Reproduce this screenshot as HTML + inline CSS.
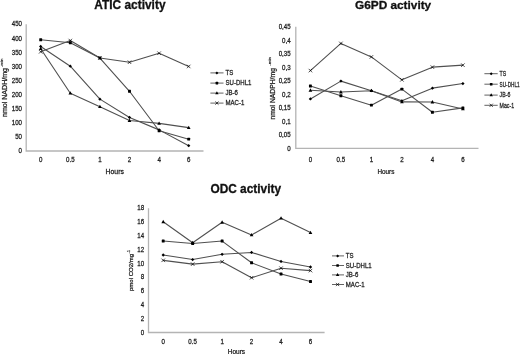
<!DOCTYPE html>
<html><head><meta charset="utf-8"><style>
html,body{margin:0;padding:0;background:#fff;width:520px;height:354px;overflow:hidden}
svg{display:block;font-family:"Liberation Sans", sans-serif;will-change:transform}
</style></head><body>
<svg width="520" height="354" viewBox="0 0 520 354">
<rect width="520" height="354" fill="#fff"/>
<path d="M26.20 24.20V151.00H203.50" stroke="#b4b4b4" stroke-width="1.3" fill="none"/>
<text transform="translate(22.00,153.25) scale(0.95,1)" font-size="6.5" text-anchor="end" font-weight="normal" fill="#1e1e1e" stroke="#1e1e1e" stroke-width="0.25" >0</text>
<text transform="translate(22.00,139.16) scale(0.95,1)" font-size="6.5" text-anchor="end" font-weight="normal" fill="#1e1e1e" stroke="#1e1e1e" stroke-width="0.25" >50</text>
<text transform="translate(22.00,125.07) scale(0.95,1)" font-size="6.5" text-anchor="end" font-weight="normal" fill="#1e1e1e" stroke="#1e1e1e" stroke-width="0.25" >100</text>
<text transform="translate(22.00,110.98) scale(0.95,1)" font-size="6.5" text-anchor="end" font-weight="normal" fill="#1e1e1e" stroke="#1e1e1e" stroke-width="0.25" >150</text>
<text transform="translate(22.00,96.89) scale(0.95,1)" font-size="6.5" text-anchor="end" font-weight="normal" fill="#1e1e1e" stroke="#1e1e1e" stroke-width="0.25" >200</text>
<text transform="translate(22.00,82.81) scale(0.95,1)" font-size="6.5" text-anchor="end" font-weight="normal" fill="#1e1e1e" stroke="#1e1e1e" stroke-width="0.25" >250</text>
<text transform="translate(22.00,68.72) scale(0.95,1)" font-size="6.5" text-anchor="end" font-weight="normal" fill="#1e1e1e" stroke="#1e1e1e" stroke-width="0.25" >300</text>
<text transform="translate(22.00,54.63) scale(0.95,1)" font-size="6.5" text-anchor="end" font-weight="normal" fill="#1e1e1e" stroke="#1e1e1e" stroke-width="0.25" >350</text>
<text transform="translate(22.00,40.54) scale(0.95,1)" font-size="6.5" text-anchor="end" font-weight="normal" fill="#1e1e1e" stroke="#1e1e1e" stroke-width="0.25" >400</text>
<text transform="translate(22.00,26.45) scale(0.95,1)" font-size="6.5" text-anchor="end" font-weight="normal" fill="#1e1e1e" stroke="#1e1e1e" stroke-width="0.25" >450</text>
<text transform="translate(40.70,161.80) scale(0.95,1)" font-size="6.5" text-anchor="middle" font-weight="normal" fill="#1e1e1e" stroke="#1e1e1e" stroke-width="0.25" >0</text>
<text transform="translate(70.30,161.80) scale(0.95,1)" font-size="6.5" text-anchor="middle" font-weight="normal" fill="#1e1e1e" stroke="#1e1e1e" stroke-width="0.25" >0.5</text>
<text transform="translate(99.90,161.80) scale(0.95,1)" font-size="6.5" text-anchor="middle" font-weight="normal" fill="#1e1e1e" stroke="#1e1e1e" stroke-width="0.25" >1</text>
<text transform="translate(129.50,161.80) scale(0.95,1)" font-size="6.5" text-anchor="middle" font-weight="normal" fill="#1e1e1e" stroke="#1e1e1e" stroke-width="0.25" >2</text>
<text transform="translate(159.10,161.80) scale(0.95,1)" font-size="6.5" text-anchor="middle" font-weight="normal" fill="#1e1e1e" stroke="#1e1e1e" stroke-width="0.25" >4</text>
<text transform="translate(188.70,161.80) scale(0.95,1)" font-size="6.5" text-anchor="middle" font-weight="normal" fill="#1e1e1e" stroke="#1e1e1e" stroke-width="0.25" >6</text>
<text transform="translate(114.70,174.40) scale(1.06,1)" font-size="6.5" text-anchor="middle" font-weight="normal" fill="#1e1e1e" stroke="#1e1e1e" stroke-width="0.25" >Hours</text>
<text x="94.30" y="8.60" font-size="12" text-anchor="start" font-weight="bold" fill="#111" stroke="#111" stroke-width="0.3" textLength="71.2" lengthAdjust="spacingAndGlyphs">ATIC activity</text>
<text transform="translate(6.80,117.00) rotate(-90)" font-size="6.8" fill="#1e1e1e" stroke="#1e1e1e" stroke-width="0.25" textLength="49" lengthAdjust="spacingAndGlyphs">nmol NADH/mg</text>
<text transform="translate(3.40,67.00) rotate(-90)" font-size="4" fill="#1e1e1e" stroke="#1e1e1e" stroke-width="0.15" textLength="8.3" lengthAdjust="spacingAndGlyphs">-min</text>
<polyline points="40.70,46.46 70.30,66.18 99.90,99.15 129.50,117.47 159.10,129.87 188.70,145.65" stroke="#505050" stroke-width="1.1" fill="none" stroke-linejoin="round"/>
<polyline points="40.70,39.70 70.30,42.80 99.90,58.01 129.50,91.26 159.10,130.71 188.70,139.17" stroke="#505050" stroke-width="1.1" fill="none" stroke-linejoin="round"/>
<polyline points="40.70,48.71 70.30,93.24 99.90,106.76 129.50,120.57 159.10,123.39 188.70,127.61" stroke="#505050" stroke-width="1.1" fill="none" stroke-linejoin="round"/>
<polyline points="40.70,51.81 70.30,40.54 99.90,58.01 129.50,62.24 159.10,53.22 188.70,66.47" stroke="#505050" stroke-width="1.1" fill="none" stroke-linejoin="round"/>
<path d="M40.70 44.81L42.35 46.46L40.70 48.11L39.05 46.46Z" fill="#000"/>
<path d="M70.30 64.53L71.95 66.18L70.30 67.83L68.65 66.18Z" fill="#000"/>
<path d="M99.90 97.50L101.55 99.15L99.90 100.80L98.25 99.15Z" fill="#000"/>
<path d="M129.50 115.82L131.15 117.47L129.50 119.12L127.85 117.47Z" fill="#000"/>
<path d="M159.10 128.22L160.75 129.87L159.10 131.52L157.45 129.87Z" fill="#000"/>
<path d="M188.70 144.00L190.35 145.65L188.70 147.30L187.05 145.65Z" fill="#000"/>
<rect x="39.25" y="38.25" width="2.90" height="2.90" rx="0.5" fill="#000"/>
<rect x="68.85" y="41.35" width="2.90" height="2.90" rx="0.5" fill="#000"/>
<rect x="98.45" y="56.56" width="2.90" height="2.90" rx="0.5" fill="#000"/>
<rect x="128.05" y="89.81" width="2.90" height="2.90" rx="0.5" fill="#000"/>
<rect x="157.65" y="129.26" width="2.90" height="2.90" rx="0.5" fill="#000"/>
<rect x="187.25" y="137.72" width="2.90" height="2.90" rx="0.5" fill="#000"/>
<path d="M40.70 46.76L42.55 50.06L38.85 50.06Z" fill="#000"/>
<path d="M70.30 91.29L72.15 94.59L68.45 94.59Z" fill="#000"/>
<path d="M99.90 104.81L101.75 108.11L98.05 108.11Z" fill="#000"/>
<path d="M129.50 118.62L131.35 121.92L127.65 121.92Z" fill="#000"/>
<path d="M159.10 121.44L160.95 124.74L157.25 124.74Z" fill="#000"/>
<path d="M188.70 125.66L190.55 128.96L186.85 128.96Z" fill="#000"/>
<path d="M38.95 50.06L42.45 53.56M42.45 50.06L38.95 53.56" stroke="#000" stroke-width="0.7" fill="none"/>
<path d="M68.55 38.79L72.05 42.29M72.05 38.79L68.55 42.29" stroke="#000" stroke-width="0.7" fill="none"/>
<path d="M98.15 56.26L101.65 59.76M101.65 56.26L98.15 59.76" stroke="#000" stroke-width="0.7" fill="none"/>
<path d="M127.75 60.49L131.25 63.99M131.25 60.49L127.75 63.99" stroke="#000" stroke-width="0.7" fill="none"/>
<path d="M157.35 51.47L160.85 54.97M160.85 51.47L157.35 54.97" stroke="#000" stroke-width="0.7" fill="none"/>
<path d="M186.95 64.72L190.45 68.22M190.45 64.72L186.95 68.22" stroke="#000" stroke-width="0.7" fill="none"/>
<path d="M210.40 72.90H223.50" stroke="#505050" stroke-width="0.9"/>
<path d="M216.90 71.40L218.40 72.90L216.90 74.40L215.40 72.90Z" fill="#000"/>
<text transform="translate(225.50,75.20) scale(0.92,1)" font-size="6.6" text-anchor="start" font-weight="normal" fill="#1e1e1e" stroke="#1e1e1e" stroke-width="0.25" >TS</text>
<path d="M210.40 83.10H223.50" stroke="#505050" stroke-width="0.9"/>
<rect x="215.60" y="81.80" width="2.60" height="2.60" rx="0.5" fill="#000"/>
<text transform="translate(225.50,85.40) scale(0.92,1)" font-size="6.6" text-anchor="start" font-weight="normal" fill="#1e1e1e" stroke="#1e1e1e" stroke-width="0.25" >SU-DHL1</text>
<path d="M210.40 93.10H223.50" stroke="#505050" stroke-width="0.9"/>
<path d="M216.90 91.30L218.60 94.30L215.20 94.30Z" fill="#000"/>
<text transform="translate(225.50,95.40) scale(0.92,1)" font-size="6.6" text-anchor="start" font-weight="normal" fill="#1e1e1e" stroke="#1e1e1e" stroke-width="0.25" >JB-6</text>
<path d="M210.40 103.10H223.50" stroke="#505050" stroke-width="0.9"/>
<path d="M215.30 101.50L218.50 104.70M218.50 101.50L215.30 104.70" stroke="#000" stroke-width="0.7" fill="none"/>
<text transform="translate(225.50,105.40) scale(0.92,1)" font-size="6.6" text-anchor="start" font-weight="normal" fill="#1e1e1e" stroke="#1e1e1e" stroke-width="0.25" >MAC-1</text>
<path d="M295.80 26.80V148.40H478.50" stroke="#b4b4b4" stroke-width="1.3" fill="none"/>
<text transform="translate(290.70,150.80) scale(0.95,1)" font-size="6.5" text-anchor="end" font-weight="normal" fill="#1e1e1e" stroke="#1e1e1e" stroke-width="0.25" >0</text>
<text transform="translate(290.70,137.29) scale(0.95,1)" font-size="6.5" text-anchor="end" font-weight="normal" fill="#1e1e1e" stroke="#1e1e1e" stroke-width="0.25" >0,05</text>
<text transform="translate(290.70,123.78) scale(0.95,1)" font-size="6.5" text-anchor="end" font-weight="normal" fill="#1e1e1e" stroke="#1e1e1e" stroke-width="0.25" >0,1</text>
<text transform="translate(290.70,110.27) scale(0.95,1)" font-size="6.5" text-anchor="end" font-weight="normal" fill="#1e1e1e" stroke="#1e1e1e" stroke-width="0.25" >0,15</text>
<text transform="translate(290.70,96.76) scale(0.95,1)" font-size="6.5" text-anchor="end" font-weight="normal" fill="#1e1e1e" stroke="#1e1e1e" stroke-width="0.25" >0,2</text>
<text transform="translate(290.70,83.24) scale(0.95,1)" font-size="6.5" text-anchor="end" font-weight="normal" fill="#1e1e1e" stroke="#1e1e1e" stroke-width="0.25" >0,25</text>
<text transform="translate(290.70,69.73) scale(0.95,1)" font-size="6.5" text-anchor="end" font-weight="normal" fill="#1e1e1e" stroke="#1e1e1e" stroke-width="0.25" >0,3</text>
<text transform="translate(290.70,56.22) scale(0.95,1)" font-size="6.5" text-anchor="end" font-weight="normal" fill="#1e1e1e" stroke="#1e1e1e" stroke-width="0.25" >0,35</text>
<text transform="translate(290.70,42.71) scale(0.95,1)" font-size="6.5" text-anchor="end" font-weight="normal" fill="#1e1e1e" stroke="#1e1e1e" stroke-width="0.25" >0,4</text>
<text transform="translate(290.70,29.20) scale(0.95,1)" font-size="6.5" text-anchor="end" font-weight="normal" fill="#1e1e1e" stroke="#1e1e1e" stroke-width="0.25" >0,45</text>
<text transform="translate(310.40,161.80) scale(0.95,1)" font-size="6.5" text-anchor="middle" font-weight="normal" fill="#1e1e1e" stroke="#1e1e1e" stroke-width="0.25" >0</text>
<text transform="translate(340.90,161.80) scale(0.95,1)" font-size="6.5" text-anchor="middle" font-weight="normal" fill="#1e1e1e" stroke="#1e1e1e" stroke-width="0.25" >0.5</text>
<text transform="translate(371.40,161.80) scale(0.95,1)" font-size="6.5" text-anchor="middle" font-weight="normal" fill="#1e1e1e" stroke="#1e1e1e" stroke-width="0.25" >1</text>
<text transform="translate(401.90,161.80) scale(0.95,1)" font-size="6.5" text-anchor="middle" font-weight="normal" fill="#1e1e1e" stroke="#1e1e1e" stroke-width="0.25" >2</text>
<text transform="translate(432.40,161.80) scale(0.95,1)" font-size="6.5" text-anchor="middle" font-weight="normal" fill="#1e1e1e" stroke="#1e1e1e" stroke-width="0.25" >4</text>
<text transform="translate(462.90,161.80) scale(0.95,1)" font-size="6.5" text-anchor="middle" font-weight="normal" fill="#1e1e1e" stroke="#1e1e1e" stroke-width="0.25" >6</text>
<text transform="translate(385.90,173.70) scale(0.98,1)" font-size="6.5" text-anchor="middle" font-weight="normal" fill="#1e1e1e" stroke="#1e1e1e" stroke-width="0.25" >Hours</text>
<text x="355.00" y="9.20" font-size="11.8" text-anchor="start" font-weight="bold" fill="#111" stroke="#111" stroke-width="0.3" textLength="76.2" lengthAdjust="spacingAndGlyphs">G6PD activity</text>
<text transform="translate(275.20,119.60) rotate(-90)" font-size="6.8" fill="#1e1e1e" stroke="#1e1e1e" stroke-width="0.25" textLength="51.5" lengthAdjust="spacingAndGlyphs">nmol NADPH/mg</text>
<text transform="translate(271.40,65.80) rotate(-90)" font-size="4" fill="#1e1e1e" stroke="#1e1e1e" stroke-width="0.15" textLength="8.8" lengthAdjust="spacingAndGlyphs">-min</text>
<polyline points="310.40,98.95 340.90,81.11 371.40,90.71 401.90,100.84 432.40,88.14 462.90,83.55" stroke="#505050" stroke-width="1.1" fill="none" stroke-linejoin="round"/>
<polyline points="310.40,85.98 340.90,95.71 371.40,105.16 401.90,89.09 432.40,112.19 462.90,107.87" stroke="#505050" stroke-width="1.1" fill="none" stroke-linejoin="round"/>
<polyline points="310.40,90.30 340.90,92.06 371.40,90.71 401.90,101.92 432.40,102.06 462.90,108.95" stroke="#505050" stroke-width="1.1" fill="none" stroke-linejoin="round"/>
<polyline points="310.40,70.58 340.90,43.42 371.40,56.93 401.90,79.84 432.40,67.14 462.90,65.17" stroke="#505050" stroke-width="1.1" fill="none" stroke-linejoin="round"/>
<path d="M310.40 97.30L312.05 98.95L310.40 100.60L308.75 98.95Z" fill="#000"/>
<path d="M340.90 79.46L342.55 81.11L340.90 82.76L339.25 81.11Z" fill="#000"/>
<path d="M371.40 89.06L373.05 90.71L371.40 92.36L369.75 90.71Z" fill="#000"/>
<path d="M401.90 99.19L403.55 100.84L401.90 102.49L400.25 100.84Z" fill="#000"/>
<path d="M432.40 86.49L434.05 88.14L432.40 89.79L430.75 88.14Z" fill="#000"/>
<path d="M462.90 81.90L464.55 83.55L462.90 85.20L461.25 83.55Z" fill="#000"/>
<rect x="308.95" y="84.53" width="2.90" height="2.90" rx="0.5" fill="#000"/>
<rect x="339.45" y="94.26" width="2.90" height="2.90" rx="0.5" fill="#000"/>
<rect x="369.95" y="103.71" width="2.90" height="2.90" rx="0.5" fill="#000"/>
<rect x="400.45" y="87.64" width="2.90" height="2.90" rx="0.5" fill="#000"/>
<rect x="430.95" y="110.74" width="2.90" height="2.90" rx="0.5" fill="#000"/>
<rect x="461.45" y="106.42" width="2.90" height="2.90" rx="0.5" fill="#000"/>
<path d="M310.40 88.35L312.25 91.65L308.55 91.65Z" fill="#000"/>
<path d="M340.90 90.11L342.75 93.41L339.05 93.41Z" fill="#000"/>
<path d="M371.40 88.76L373.25 92.06L369.55 92.06Z" fill="#000"/>
<path d="M401.90 99.97L403.75 103.27L400.05 103.27Z" fill="#000"/>
<path d="M432.40 100.11L434.25 103.41L430.55 103.41Z" fill="#000"/>
<path d="M462.90 107.00L464.75 110.30L461.05 110.30Z" fill="#000"/>
<path d="M308.65 68.83L312.15 72.33M312.15 68.83L308.65 72.33" stroke="#000" stroke-width="0.7" fill="none"/>
<path d="M339.15 41.67L342.65 45.17M342.65 41.67L339.15 45.17" stroke="#000" stroke-width="0.7" fill="none"/>
<path d="M369.65 55.18L373.15 58.68M373.15 55.18L369.65 58.68" stroke="#000" stroke-width="0.7" fill="none"/>
<path d="M400.15 78.09L403.65 81.59M403.65 78.09L400.15 81.59" stroke="#000" stroke-width="0.7" fill="none"/>
<path d="M430.65 65.39L434.15 68.89M434.15 65.39L430.65 68.89" stroke="#000" stroke-width="0.7" fill="none"/>
<path d="M461.15 63.42L464.65 66.92M464.65 63.42L461.15 66.92" stroke="#000" stroke-width="0.7" fill="none"/>
<path d="M484.40 73.70H497.70" stroke="#505050" stroke-width="0.9"/>
<path d="M491.20 72.20L492.70 73.70L491.20 75.20L489.70 73.70Z" fill="#000"/>
<text transform="translate(499.60,76.00) scale(0.7912,1)" font-size="6.6" text-anchor="start" font-weight="normal" fill="#1e1e1e" stroke="#1e1e1e" stroke-width="0.25" >TS</text>
<path d="M484.40 84.20H497.70" stroke="#505050" stroke-width="0.9"/>
<rect x="489.90" y="82.90" width="2.60" height="2.60" rx="0.5" fill="#000"/>
<text transform="translate(499.60,86.50) scale(0.71,1)" font-size="6.6" text-anchor="start" font-weight="normal" fill="#1e1e1e" stroke="#1e1e1e" stroke-width="0.25" >SU-DHL1</text>
<path d="M484.40 95.10H497.70" stroke="#505050" stroke-width="0.9"/>
<path d="M491.20 93.30L492.90 96.30L489.50 96.30Z" fill="#000"/>
<text transform="translate(499.60,97.40) scale(0.7912,1)" font-size="6.6" text-anchor="start" font-weight="normal" fill="#1e1e1e" stroke="#1e1e1e" stroke-width="0.25" >JB-6</text>
<path d="M484.40 105.30H497.70" stroke="#505050" stroke-width="0.9"/>
<path d="M489.60 103.70L492.80 106.90M492.80 103.70L489.60 106.90" stroke="#000" stroke-width="0.7" fill="none"/>
<text transform="translate(499.60,107.60) scale(0.7912,1)" font-size="6.6" text-anchor="start" font-weight="normal" fill="#1e1e1e" stroke="#1e1e1e" stroke-width="0.25" >Mac-1</text>
<path d="M148.50 208.30V332.50H324.60" stroke="#b4b4b4" stroke-width="1.3" fill="none"/>
<text transform="translate(144.20,334.55) scale(0.95,1)" font-size="6.5" text-anchor="end" font-weight="normal" fill="#1e1e1e" stroke="#1e1e1e" stroke-width="0.25" >0</text>
<text transform="translate(144.20,320.75) scale(0.95,1)" font-size="6.5" text-anchor="end" font-weight="normal" fill="#1e1e1e" stroke="#1e1e1e" stroke-width="0.25" >2</text>
<text transform="translate(144.20,306.95) scale(0.95,1)" font-size="6.5" text-anchor="end" font-weight="normal" fill="#1e1e1e" stroke="#1e1e1e" stroke-width="0.25" >4</text>
<text transform="translate(144.20,293.15) scale(0.95,1)" font-size="6.5" text-anchor="end" font-weight="normal" fill="#1e1e1e" stroke="#1e1e1e" stroke-width="0.25" >6</text>
<text transform="translate(144.20,279.35) scale(0.95,1)" font-size="6.5" text-anchor="end" font-weight="normal" fill="#1e1e1e" stroke="#1e1e1e" stroke-width="0.25" >8</text>
<text transform="translate(144.20,265.55) scale(0.95,1)" font-size="6.5" text-anchor="end" font-weight="normal" fill="#1e1e1e" stroke="#1e1e1e" stroke-width="0.25" >10</text>
<text transform="translate(144.20,251.75) scale(0.95,1)" font-size="6.5" text-anchor="end" font-weight="normal" fill="#1e1e1e" stroke="#1e1e1e" stroke-width="0.25" >12</text>
<text transform="translate(144.20,237.95) scale(0.95,1)" font-size="6.5" text-anchor="end" font-weight="normal" fill="#1e1e1e" stroke="#1e1e1e" stroke-width="0.25" >14</text>
<text transform="translate(144.20,224.15) scale(0.95,1)" font-size="6.5" text-anchor="end" font-weight="normal" fill="#1e1e1e" stroke="#1e1e1e" stroke-width="0.25" >16</text>
<text transform="translate(144.20,210.35) scale(0.95,1)" font-size="6.5" text-anchor="end" font-weight="normal" fill="#1e1e1e" stroke="#1e1e1e" stroke-width="0.25" >18</text>
<text transform="translate(163.20,343.60) scale(0.95,1)" font-size="6.5" text-anchor="middle" font-weight="normal" fill="#1e1e1e" stroke="#1e1e1e" stroke-width="0.25" >0</text>
<text transform="translate(192.66,343.60) scale(0.95,1)" font-size="6.5" text-anchor="middle" font-weight="normal" fill="#1e1e1e" stroke="#1e1e1e" stroke-width="0.25" >0.5</text>
<text transform="translate(222.12,343.60) scale(0.95,1)" font-size="6.5" text-anchor="middle" font-weight="normal" fill="#1e1e1e" stroke="#1e1e1e" stroke-width="0.25" >1</text>
<text transform="translate(251.58,343.60) scale(0.95,1)" font-size="6.5" text-anchor="middle" font-weight="normal" fill="#1e1e1e" stroke="#1e1e1e" stroke-width="0.25" >2</text>
<text transform="translate(281.04,343.60) scale(0.95,1)" font-size="6.5" text-anchor="middle" font-weight="normal" fill="#1e1e1e" stroke="#1e1e1e" stroke-width="0.25" >4</text>
<text transform="translate(310.50,343.60) scale(0.95,1)" font-size="6.5" text-anchor="middle" font-weight="normal" fill="#1e1e1e" stroke="#1e1e1e" stroke-width="0.25" >6</text>
<text x="236.40" y="353.80" font-size="6.5" text-anchor="middle" font-weight="normal" fill="#1e1e1e" stroke="#1e1e1e" stroke-width="0.25" >Hours</text>
<text x="210.40" y="192.50" font-size="12" text-anchor="start" font-weight="bold" fill="#111" stroke="#111" stroke-width="0.3" textLength="70.6" lengthAdjust="spacingAndGlyphs">ODC activity</text>
<text transform="translate(132.50,291.00) rotate(-90)" font-size="6.2" fill="#1e1e1e" stroke="#1e1e1e" stroke-width="0.25" textLength="37" lengthAdjust="spacingAndGlyphs">pmol CO2/mg</text>
<text transform="translate(130.40,253.60) rotate(-90)" font-size="4" fill="#1e1e1e" stroke="#1e1e1e" stroke-width="0.15" textLength="3.6" lengthAdjust="spacingAndGlyphs">-1</text>
<polyline points="163.20,255.01 192.66,259.57 222.12,254.32 251.58,252.46 281.04,261.43 310.50,267.02" stroke="#505050" stroke-width="1.1" fill="none" stroke-linejoin="round"/>
<polyline points="163.20,241.07 192.66,243.49 222.12,241.07 251.58,262.81 281.04,273.99 310.50,281.44" stroke="#505050" stroke-width="1.1" fill="none" stroke-linejoin="round"/>
<polyline points="163.20,221.82 192.66,242.73 222.12,222.31 251.58,235.00 281.04,218.17 310.50,232.59" stroke="#505050" stroke-width="1.1" fill="none" stroke-linejoin="round"/>
<polyline points="163.20,260.33 192.66,264.12 222.12,261.71 251.58,277.78 281.04,268.19 310.50,270.61" stroke="#505050" stroke-width="1.1" fill="none" stroke-linejoin="round"/>
<path d="M163.20 253.36L164.85 255.01L163.20 256.66L161.55 255.01Z" fill="#000"/>
<path d="M192.66 257.92L194.31 259.57L192.66 261.22L191.01 259.57Z" fill="#000"/>
<path d="M222.12 252.67L223.77 254.32L222.12 255.97L220.47 254.32Z" fill="#000"/>
<path d="M251.58 250.81L253.23 252.46L251.58 254.11L249.93 252.46Z" fill="#000"/>
<path d="M281.04 259.78L282.69 261.43L281.04 263.08L279.39 261.43Z" fill="#000"/>
<path d="M310.50 265.37L312.15 267.02L310.50 268.67L308.85 267.02Z" fill="#000"/>
<rect x="161.75" y="239.62" width="2.90" height="2.90" rx="0.5" fill="#000"/>
<rect x="191.21" y="242.04" width="2.90" height="2.90" rx="0.5" fill="#000"/>
<rect x="220.67" y="239.62" width="2.90" height="2.90" rx="0.5" fill="#000"/>
<rect x="250.13" y="261.36" width="2.90" height="2.90" rx="0.5" fill="#000"/>
<rect x="279.59" y="272.54" width="2.90" height="2.90" rx="0.5" fill="#000"/>
<rect x="309.05" y="279.99" width="2.90" height="2.90" rx="0.5" fill="#000"/>
<path d="M163.20 219.87L165.05 223.17L161.35 223.17Z" fill="#000"/>
<path d="M192.66 240.78L194.51 244.08L190.81 244.08Z" fill="#000"/>
<path d="M222.12 220.36L223.97 223.66L220.27 223.66Z" fill="#000"/>
<path d="M251.58 233.05L253.43 236.35L249.73 236.35Z" fill="#000"/>
<path d="M281.04 216.22L282.89 219.52L279.19 219.52Z" fill="#000"/>
<path d="M310.50 230.64L312.35 233.94L308.65 233.94Z" fill="#000"/>
<path d="M161.45 258.58L164.95 262.08M164.95 258.58L161.45 262.08" stroke="#000" stroke-width="0.7" fill="none"/>
<path d="M190.91 262.37L194.41 265.87M194.41 262.37L190.91 265.87" stroke="#000" stroke-width="0.7" fill="none"/>
<path d="M220.37 259.96L223.87 263.46M223.87 259.96L220.37 263.46" stroke="#000" stroke-width="0.7" fill="none"/>
<path d="M249.83 276.03L253.33 279.53M253.33 276.03L249.83 279.53" stroke="#000" stroke-width="0.7" fill="none"/>
<path d="M279.29 266.44L282.79 269.94M282.79 266.44L279.29 269.94" stroke="#000" stroke-width="0.7" fill="none"/>
<path d="M308.75 268.86L312.25 272.36M312.25 268.86L308.75 272.36" stroke="#000" stroke-width="0.7" fill="none"/>
<path d="M332.00 255.90H344.00" stroke="#505050" stroke-width="0.9"/>
<path d="M337.60 254.40L339.10 255.90L337.60 257.40L336.10 255.90Z" fill="#000"/>
<text transform="translate(345.80,258.20) scale(0.92,1)" font-size="6.6" text-anchor="start" font-weight="normal" fill="#1e1e1e" stroke="#1e1e1e" stroke-width="0.25" >TS</text>
<path d="M332.00 265.50H344.00" stroke="#505050" stroke-width="0.9"/>
<rect x="336.30" y="264.20" width="2.60" height="2.60" rx="0.5" fill="#000"/>
<text transform="translate(345.80,267.80) scale(0.92,1)" font-size="6.6" text-anchor="start" font-weight="normal" fill="#1e1e1e" stroke="#1e1e1e" stroke-width="0.25" >SU-DHL1</text>
<path d="M332.00 274.90H344.00" stroke="#505050" stroke-width="0.9"/>
<path d="M337.60 273.10L339.30 276.10L335.90 276.10Z" fill="#000"/>
<text transform="translate(345.80,277.20) scale(0.92,1)" font-size="6.6" text-anchor="start" font-weight="normal" fill="#1e1e1e" stroke="#1e1e1e" stroke-width="0.25" >JB-6</text>
<path d="M332.00 284.50H344.00" stroke="#505050" stroke-width="0.9"/>
<path d="M336.00 282.90L339.20 286.10M339.20 282.90L336.00 286.10" stroke="#000" stroke-width="0.7" fill="none"/>
<text transform="translate(345.80,286.80) scale(0.92,1)" font-size="6.6" text-anchor="start" font-weight="normal" fill="#1e1e1e" stroke="#1e1e1e" stroke-width="0.25" >MAC-1</text>
</svg>
</body></html>
